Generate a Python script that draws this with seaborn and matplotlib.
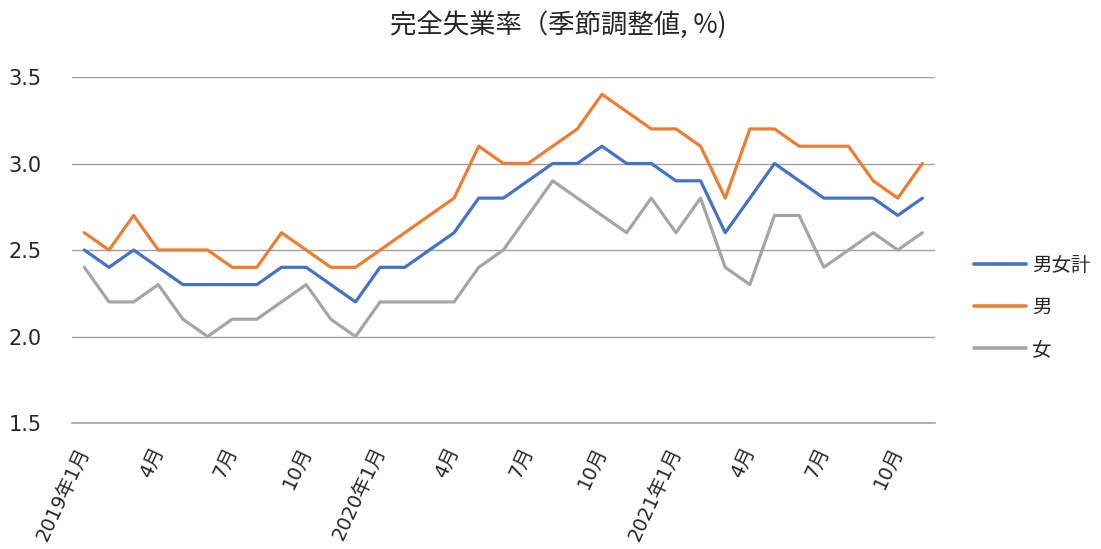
import numpy as np
import pandas as pd
import matplotlib
matplotlib.use('Agg')
import matplotlib.pyplot as plt
import seaborn as sns

# 2019年1月 - 2021年11月
months = [f'{y}-{m:02d}' for y in (2019, 2020, 2021) for m in range(1, 13)][:35]
total = [2.5, 2.4, 2.5, 2.4, 2.3, 2.3, 2.3, 2.3, 2.4, 2.4, 2.3, 2.2,
         2.4, 2.4, 2.5, 2.6, 2.8, 2.8, 2.9, 3.0, 3.0, 3.1, 3.0, 3.0,
         2.9, 2.9, 2.6, 2.8, 3.0, 2.9, 2.8, 2.8, 2.8, 2.7, 2.8]
men = [2.6, 2.5, 2.7, 2.5, 2.5, 2.5, 2.4, 2.4, 2.6, 2.5, 2.4, 2.4,
       2.5, 2.6, 2.7, 2.8, 3.1, 3.0, 3.0, 3.1, 3.2, 3.4, 3.3, 3.2,
       3.2, 3.1, 2.8, 3.2, 3.2, 3.1, 3.1, 3.1, 2.9, 2.8, 3.0]
women = [2.4, 2.2, 2.2, 2.3, 2.1, 2.0, 2.1, 2.1, 2.2, 2.3, 2.1, 2.0,
         2.2, 2.2, 2.2, 2.2, 2.4, 2.5, 2.7, 2.9, 2.8, 2.7, 2.6, 2.8,
         2.6, 2.8, 2.4, 2.3, 2.7, 2.7, 2.4, 2.5, 2.6, 2.5, 2.6]
series_names = ['男女計', '男', '女']
colors = ['#4472C4', '#ED7D31', '#A5A5A5']

tick_pos = [0, 3, 6, 9, 12, 15, 18, 21, 24, 27, 30, 33]
tick_labels = ['2019年1月', '4月', '7月', '10月', '2020年1月', '4月', '7月', '10月',
               '2021年1月', '4月', '7月', '10月']

df = pd.DataFrame({'idx': range(len(months)), '男女計': total, '男': men, '女': women})
long = df.melt(id_vars='idx', var_name='系列', value_name='率')

sns.set_style('white')
plt.rcParams['font.family'] = ['DejaVu Sans', 'Noto Sans CJK JP']

fig = plt.figure(figsize=(11.01, 5.49), dpi=100)
ax = fig.add_axes([0.0654, 0.2295, 0.7836, 0.6302])

sns.lineplot(data=long, x='idx', y='率', hue='系列', hue_order=series_names,
             palette=colors, linewidth=2.3, ax=ax, legend=False)

ax.set_xlim(-0.5, len(months) - 0.5)
ax.set_ylim(1.5, 3.5)
ax.set_yticks([1.5, 2.0, 2.5, 3.0, 3.5])
ax.set_yticklabels(['1.5', '2.0', '2.5', '3.0', '3.5'])
ax.yaxis.grid(True, color='#A0A0A0', linewidth=1)
ax.set_axisbelow(True)
for s in ['top', 'right', 'left']:
    ax.spines[s].set_visible(False)
ax.spines['bottom'].set_color('#A6A6A6')
ax.spines['bottom'].set_linewidth(1.2)

ax.set_xticks(tick_pos)
ax.set_xticklabels(tick_labels, rotation=65, ha='right', va='center',
                   rotation_mode='anchor', fontsize=14)
ax.set_xticks(np.arange(-0.5, len(months)), minor=True)
ax.tick_params(axis='x', which='major', length=0, pad=18)
ax.tick_params(axis='x', which='minor', direction='in', length=5,
               color='#A6A6A6', width=1)
ax.tick_params(axis='y', length=0, pad=22, labelsize=15)
ax.set_xlabel('')
ax.set_ylabel('')

handles = [plt.Line2D([], [], color=c, linewidth=2.6) for c in colors]
fig.legend(handles, series_names, loc='center left', bbox_to_anchor=(0.872, 0.44),
           frameon=False, fontsize=14, handlelength=2.7, handletextpad=0.3,
           labelspacing=1.2, borderpad=0.2)

fig.text(0.507, 0.955, '完全失業率（季節調整値, %)', ha='center', va='center',
         fontsize=19, family=['Noto Sans CJK JP', 'DejaVu Sans'])

fig.savefig('out.png', dpi=100)
